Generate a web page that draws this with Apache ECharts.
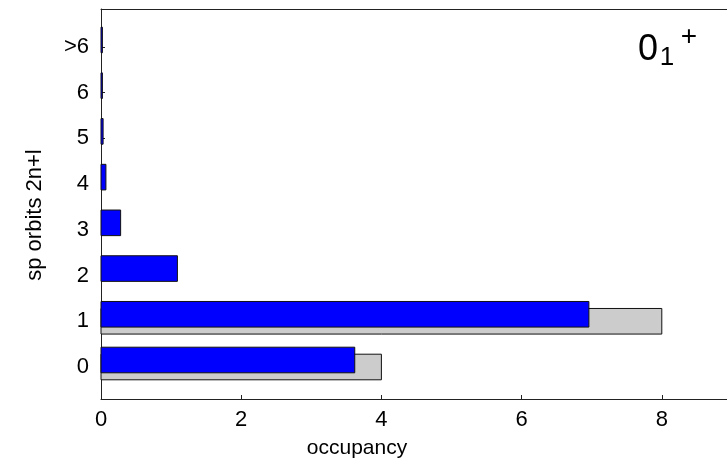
<!DOCTYPE html>
<html>
<head>
<meta charset="utf-8">
<script src="https://cdn.jsdelivr.net/npm/echarts@6/dist/echarts.min.js"></script>
<style>html,body{margin:0;padding:0;background:#fff}#c{width:727px;height:460px}</style>
</head>
<body>
<div id="c"></div>
<script>
var categories = ['0', '1', '2', '3', '4', '5', '6', '>6'];
var calcValues = [3.62, 6.96, 1.09, 0.28, 0.07, 0.03, 0.02, 0.02];
var refValues = [4, 8, 0, 0, 0, 0, 0, 0];
var xTicks = [0, 2, 4, 6, 8];
var yTicks = [0, 1, 2, 3, 4, 5, 6, 7];

var FONT = "'Liberation Sans', Arial, sans-serif";
var BAR_H = 0.56;
var BLUE_OFF = 0.153;

function makeRender(offset, color) {
  return function (params, api) {
    var v = api.value(0), c = api.value(1);
    if (!v) return null;
    var p0 = api.coord([0, c + offset]);
    var p1 = api.coord([v, c + offset]);
    var h = api.size([0, BAR_H])[1];
    return {
      type: 'rect',
      shape: { x: p0[0], y: p0[1] - h / 2, width: Math.max(p1[0] - p0[0], 1), height: h },
      style: { fill: color, stroke: '#111', lineWidth: 1 }
    };
  };
}

var lineStyle = { color: '#222', width: 1 };
var chart = echarts.init(document.getElementById('c'));
chart.setOption({
  animation: false,
  grid: { left: 101, right: 0, top: 9, bottom: 61, show: false },
  xAxis: [{
    type: 'value', min: 0, max: 8.93, position: 'bottom',
    axisLine: { show: true, onZero: false, lineStyle: lineStyle },
    splitLine: { show: false },
    axisTick: { show: true, inside: true, length: 4, customValues: xTicks, lineStyle: lineStyle },
    axisLabel: { customValues: xTicks, color: '#000', fontSize: 22, fontFamily: FONT, margin: 10 }
  }, {
    type: 'value', min: 0, max: 8.93, position: 'top',
    axisLine: { show: true, onZero: false, lineStyle: lineStyle },
    splitLine: { show: false }, axisTick: { show: false }, axisLabel: { show: false }
  }],
  yAxis: {
    type: 'value', min: -0.7, max: 7.83,
    axisLine: { show: true, onZero: false, lineStyle: lineStyle },
    splitLine: { show: false },
    axisTick: { show: true, inside: true, length: 4, customValues: yTicks, lineStyle: lineStyle },
    axisLabel: {
      customValues: yTicks, color: '#000', fontSize: 22, fontFamily: FONT, margin: 12,
      formatter: function (v) { return categories[Math.round(v)]; }
    }
  },
  series: [
    {
      type: 'custom', renderItem: makeRender(0, '#cccccc'),
      encode: { x: 0, y: 1 },
      data: refValues.map(function (v, i) { return [v, i]; }),
      z: 2
    },
    {
      type: 'custom', renderItem: makeRender(BLUE_OFF, '#0000ff'),
      encode: { x: 0, y: 1 },
      data: calcValues.map(function (v, i) { return [v, i]; }),
      z: 3
    }
  ],
  graphic: [
    { type: 'text', x: 357, y: 448, style: { text: 'occupancy', font: '21px ' + FONT, fill: '#000', align: 'center', verticalAlign: 'middle' } },
    { type: 'text', x: 35, y: 215, rotation: Math.PI / 2, style: { text: 'sp orbits 2n+l', font: '22px ' + FONT, fill: '#000', align: 'center', verticalAlign: 'middle' } },
    { type: 'text', x: 648, y: 50, style: { text: '0', font: '36px ' + FONT, fill: '#000', align: 'center', verticalAlign: 'middle' } },
    { type: 'text', x: 667, y: 58, style: { text: '1', font: '26px ' + FONT, fill: '#000', align: 'center', verticalAlign: 'middle' } },
    { type: 'text', x: 689, y: 37, style: { text: '+', font: '28px ' + FONT, fill: '#000', align: 'center', verticalAlign: 'middle' } }
  ]
});
</script>
</body>
</html>
